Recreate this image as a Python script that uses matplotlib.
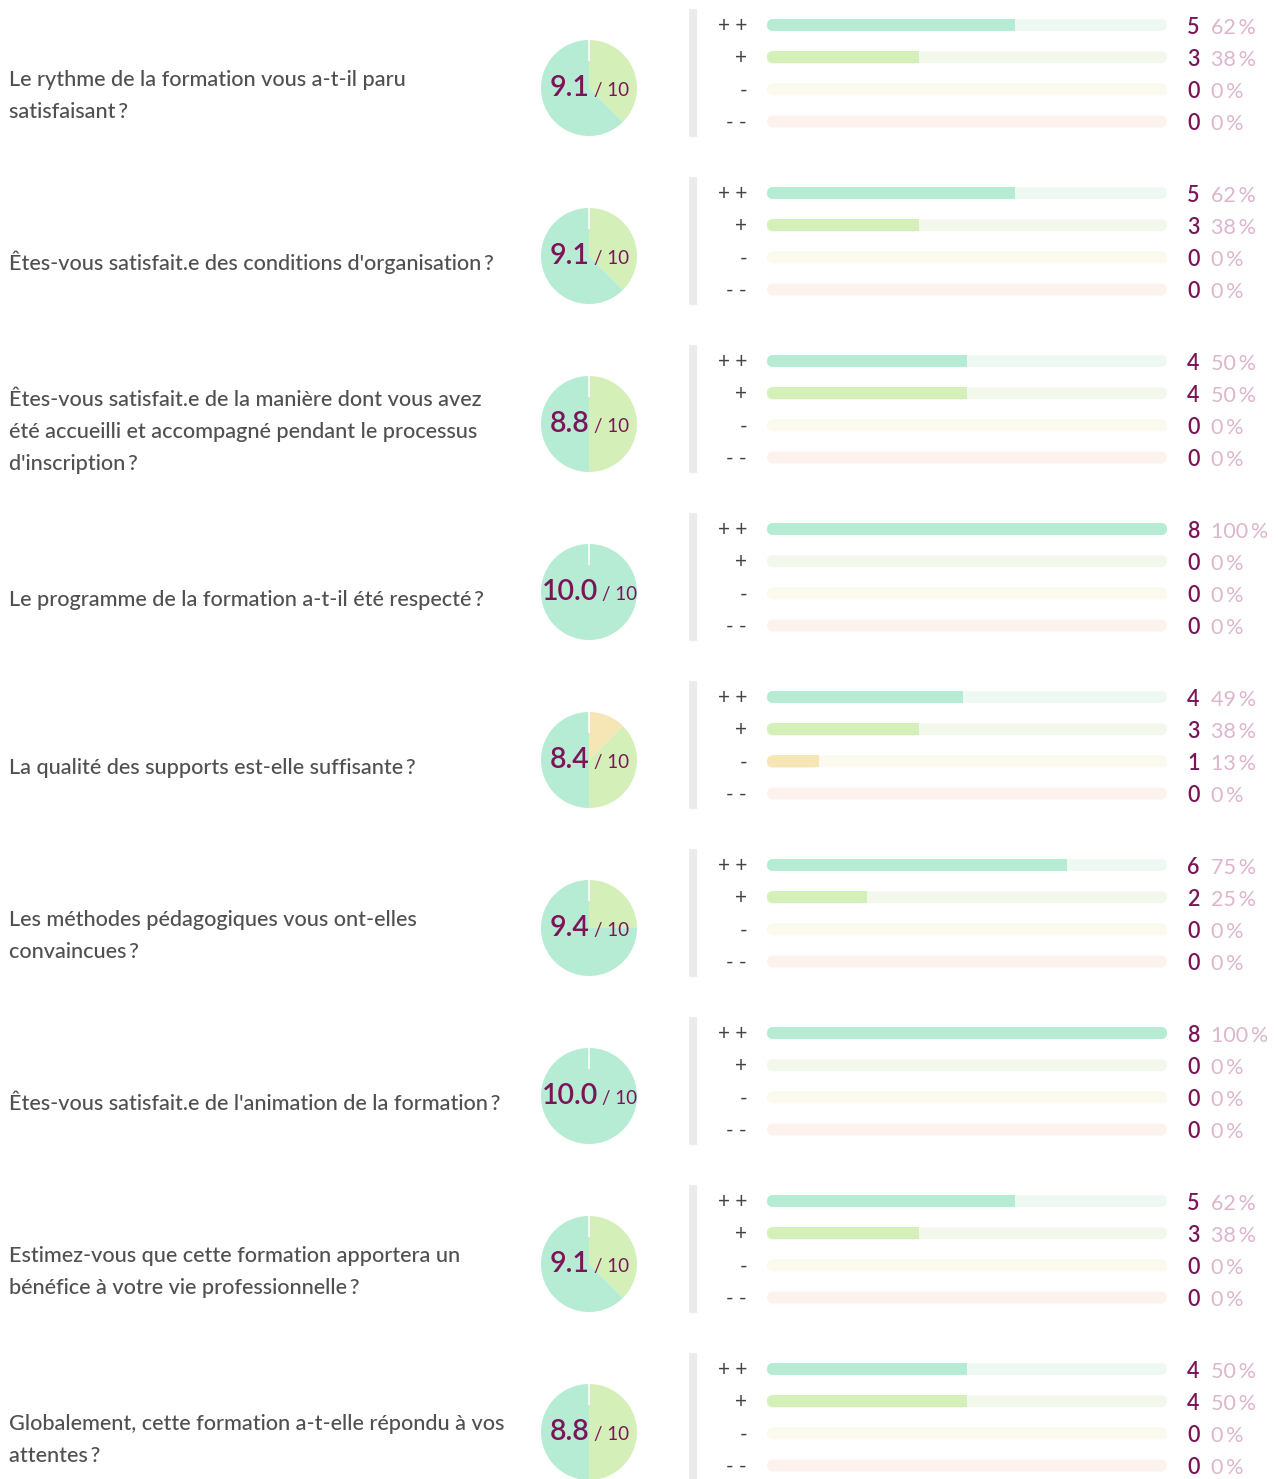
import matplotlib
matplotlib.use('Agg')
import matplotlib.pyplot as plt
from matplotlib.patches import FancyBboxPatch, Rectangle

plt.rcParams['font.family'] = ['Lato', 'DejaVu Sans']

# ---------------- data ----------------
questions = [
    "Le rythme de la formation vous a-t-il paru\nsatisfaisant\u2009?",
    "Êtes-vous satisfait.e des conditions d'organisation\u2009?",
    "Êtes-vous satisfait.e de la manière dont vous avez\nété accueilli et accompagné pendant le processus\nd'inscription\u2009?",
    "Le programme de la formation a-t-il été respecté\u2009?",
    "La qualité des supports est-elle suffisante\u2009?",
    "Les méthodes pédagogiques vous ont-elles\nconvaincues\u2009?",
    "Êtes-vous satisfait.e de l'animation de la formation\u2009?",
    "Estimez-vous que cette formation apportera un\nbénéfice à votre vie professionnelle\u2009?",
    "Globalement, cette formation a-t-elle répondu à vos\nattentes\u2009?",
]
scores = ["9.1", "9.1", "8.8", "10.0", "8.4", "9.4", "10.0", "9.1", "8.8"]
levels = ["+ +", "+", "-", "- -"]
counts = [
    [5, 3, 0, 0],
    [5, 3, 0, 0],
    [4, 4, 0, 0],
    [8, 0, 0, 0],
    [4, 3, 1, 0],
    [6, 2, 0, 0],
    [8, 0, 0, 0],
    [5, 3, 0, 0],
    [4, 4, 0, 0],
]
percents = [
    [62, 38, 0, 0],
    [62, 38, 0, 0],
    [50, 50, 0, 0],
    [100, 0, 0, 0],
    [49, 38, 13, 0],
    [75, 25, 0, 0],
    [100, 0, 0, 0],
    [62, 38, 0, 0],
    [50, 50, 0, 0],
]

# ---------------- style ----------------
fill_colors = ["#b5ecd3", "#d4f0b8", "#f6e6b6", "#f6d3c4"]
track_colors = ["#eff9f4", "#f2f9ec", "#fcf9ee", "#fcf3ef"]
magenta = "#7b1559"
pink = "#dcb6cd"
qcolor = "#505050"
lcolor = "#444444"

W, H = 1278, 1479
fig = plt.figure(figsize=(W / 100, H / 100), dpi=100)
fig.patch.set_facecolor("white")

ROW0, STEP = 88, 168
PIE_CX, PIE_R = 589, 48
BAR_X0, BAR_X1 = 767, 1167
BAR_H = 12


def fig_rect(x0, y0, w, h):
    return [x0 / W, 1 - (y0 + h) / H, w / W, h / H]


xunit_px = (BAR_X1 - BAR_X0) / 100.0
aspect = xunit_px  # y units are pixels, x units are percent
rad_px = 6

for i in range(len(questions)):
    cy = ROW0 + i * STEP
    # pie
    pax = fig.add_axes(fig_rect(PIE_CX - PIE_R, cy - PIE_R, 2 * PIE_R, 2 * PIE_R))
    vals = counts[i][::-1]
    cols = fill_colors[::-1]
    nz = [(v, c) for v, c in zip(vals, cols) if v > 0]
    pax.pie([v for v, c in nz], colors=[c for v, c in nz], startangle=90,
            counterclock=False, radius=1, wedgeprops=dict(linewidth=0))
    pax.plot([0, 0], [1.0, 0.56], color="white", lw=1.2, solid_capstyle="butt")
    pax.set_xlim(-1, 1)
    pax.set_ylim(-1, 1)
    pax.axis('off')

    # bars
    top = cy - 72
    bh = 114
    bax = fig.add_axes(fig_rect(BAR_X0, top, BAR_X1 - BAR_X0, bh))
    bax.set_xlim(0, 100)
    bax.set_ylim(bh, 0)
    bax.axis('off')
    ypos = [9 + 32.2 * k for k in range(4)]
    tracks = bax.barh(ypos, [100] * 4, height=BAR_H, color=track_colors)
    for rect, tc in zip(tracks, track_colors):
        x, y, w, h = rect.get_x(), rect.get_y(), rect.get_width(), rect.get_height()
        rect.set_visible(False)
        rs = min(rad_px / xunit_px, w / 2)
        bax.add_patch(FancyBboxPatch((x, y), w, h,
                                     boxstyle=f"round,pad=0,rounding_size={rs}",
                                     mutation_aspect=aspect, fc=tc, ec="none", lw=0))
    fills = bax.barh(ypos, percents[i], height=BAR_H, color=fill_colors, zorder=3)
    for rect, fc, p in zip(fills, fill_colors, percents[i]):
        x, y, w, h = rect.get_x(), rect.get_y(), rect.get_width(), rect.get_height()
        if w <= 0:
            rect.set_visible(False)
            continue
        rs = min(rad_px / xunit_px, w / 2)
        bax.add_patch(FancyBboxPatch((x, y), w, h,
                                     boxstyle=f"round,pad=0,rounding_size={rs}",
                                     mutation_aspect=aspect, fc=fc, ec="none", lw=0,
                                     zorder=3))
        if p >= 100:
            rect.set_visible(False)
        else:
            rect.set_x(x + rs)
            rect.set_width(max(w - rs, 0))

# main overlay axes in pixel coordinates
ax = fig.add_axes([0, 0, 1, 1])
ax.set_xlim(0, W)
ax.set_ylim(H, 0)
ax.axis('off')
renderer = fig.canvas.get_renderer()

for i, q in enumerate(questions):
    cy = ROW0 + i * STEP
    lines = q.split("\n")
    n = len(lines)
    for j, line in enumerate(lines):
        by = cy + 14 + (j - (n - 1) / 2) * 32
        ax.text(9, by, line, fontsize=15.6, color=qcolor, ha="left", va="baseline",
                fontweight="medium")

    # grey separator
    ax.add_patch(Rectangle((689, cy - 79), 8, 128, fc="#ebebeb", ec="none"))

    # score
    t1 = ax.text(0, cy + 8, scores[i], fontsize=20.5, color=magenta, va="baseline",
                 fontweight="semibold")
    t2 = ax.text(0, cy + 8, "/ 10", fontsize=13.5, color=magenta, va="baseline")
    w1 = t1.get_window_extent(renderer).width
    w2 = t2.get_window_extent(renderer).width
    gap = 4
    x0 = PIE_CX + 0.5 - (w1 + gap + w2) / 2
    t1.set_x(x0)
    t2.set_x(x0 + w1 + gap)

    for k in range(4):
        yb = cy - 63 + 32.2 * k
        ax.text(747, yb + 1, levels[k], fontsize=15, color=lcolor, ha="right", va="center")
        ax.text(1187, yb + 8.5, str(counts[i][k]), fontsize=15.5, color=magenta,
                ha="left", va="baseline", fontweight="semibold")
        ax.text(1211, yb + 8.5, f"{percents[i][k]}\u2009%", fontsize=15.5, color=pink,
                ha="left", va="baseline")

fig.savefig("out.png", dpi=100, facecolor="white")
